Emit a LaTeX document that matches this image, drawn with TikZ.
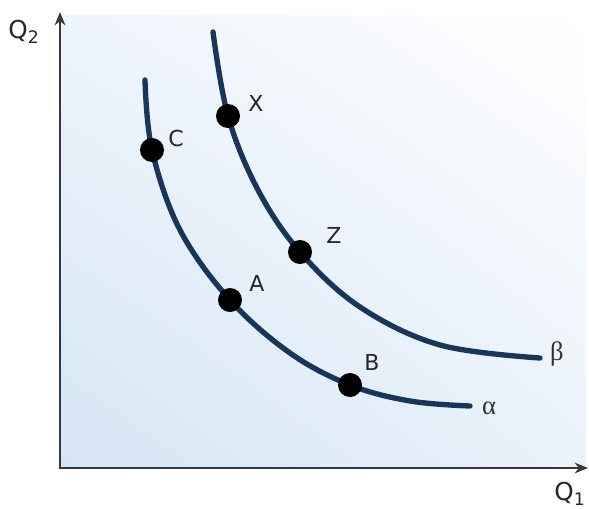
\documentclass[tikz,border=0pt]{standalone}
\usepackage{fontspec}
\setmainfont{DejaVu Sans}
\newfontfamily\greekfont{Liberation Serif}
\usetikzlibrary{arrows.meta,shadings}
\definecolor{curvec}{HTML}{17365A}
\definecolor{axisc}{HTML}{383838}
\definecolor{bgblue}{HTML}{D5E5F5}
\tikzset{
  curve/.style={line width=4pt, curvec, line cap=round},
  dot/.style={circle, fill=black, minimum size=18pt, inner sep=0pt},
  lbl/.style={font=\fontsize{16.5}{16.5}\selectfont, text=black!85},
  glbl/.style={font=\greekfont\fontsize{20}{20}\selectfont, text=black!80},
  axis/.style={line width=1.8pt, axisc, -{Stealth[length=10pt,width=8pt]}}
}
\begin{document}
\begin{tikzpicture}[x=0.75pt,y=-0.75pt]
\useasboundingbox (0,0) rectangle (589,508);
\shade[lower left=bgblue, upper right=white, upper left=white!60!bgblue, lower right=white!50!bgblue] (60,15) rectangle (586,468);
\coordinate (o) at (60,468);
\coordinate (ytop) at (60,12);
\coordinate (xend) at (588,468);
\draw[axis] (o) -- (ytop);
\draw[axis] ([xshift=-0.9pt]o) -- (xend);
\node[lbl, font=\fontsize{18.5}{18.5}\selectfont] (q2) at (24,32) {Q\textsubscript{2}};
\node[lbl, font=\fontsize{18.5}{18.5}\selectfont] (q1) at (570,494) {Q\textsubscript{1}};
% alpha curve
\draw[curve] plot[smooth, tension=0.6] coordinates {(145,80) (152,150) (180,230) (230,300) (290,353) (350,385) (410,401) (470,406)};
% beta curve
\draw[curve] plot[smooth, tension=0.6] coordinates {(213,32) (228,116) (258,190) (300,252) (360,307) (440,345) (540,358)};
\node[dot] (C) at (152,150) {};
\node[dot] (A) at (230,300) {};
\node[dot] (B) at (350,385) {};
\node[dot] (X) at (228,116) {};
\node[dot] (Z) at (300,252) {};
\node[lbl] (lC) at (176,138) {C};
\node[lbl] (lA) at (257,283) {A};
\node[lbl] (lB) at (372,362) {B};
\node[lbl] (lX) at (256,103) {X};
\node[lbl] (lZ) at (334,235) {Z};
\node[glbl] (beta) at (557,354) {β};
\node[glbl] (alpha) at (489,408) {α};
\end{tikzpicture}
\end{document}
